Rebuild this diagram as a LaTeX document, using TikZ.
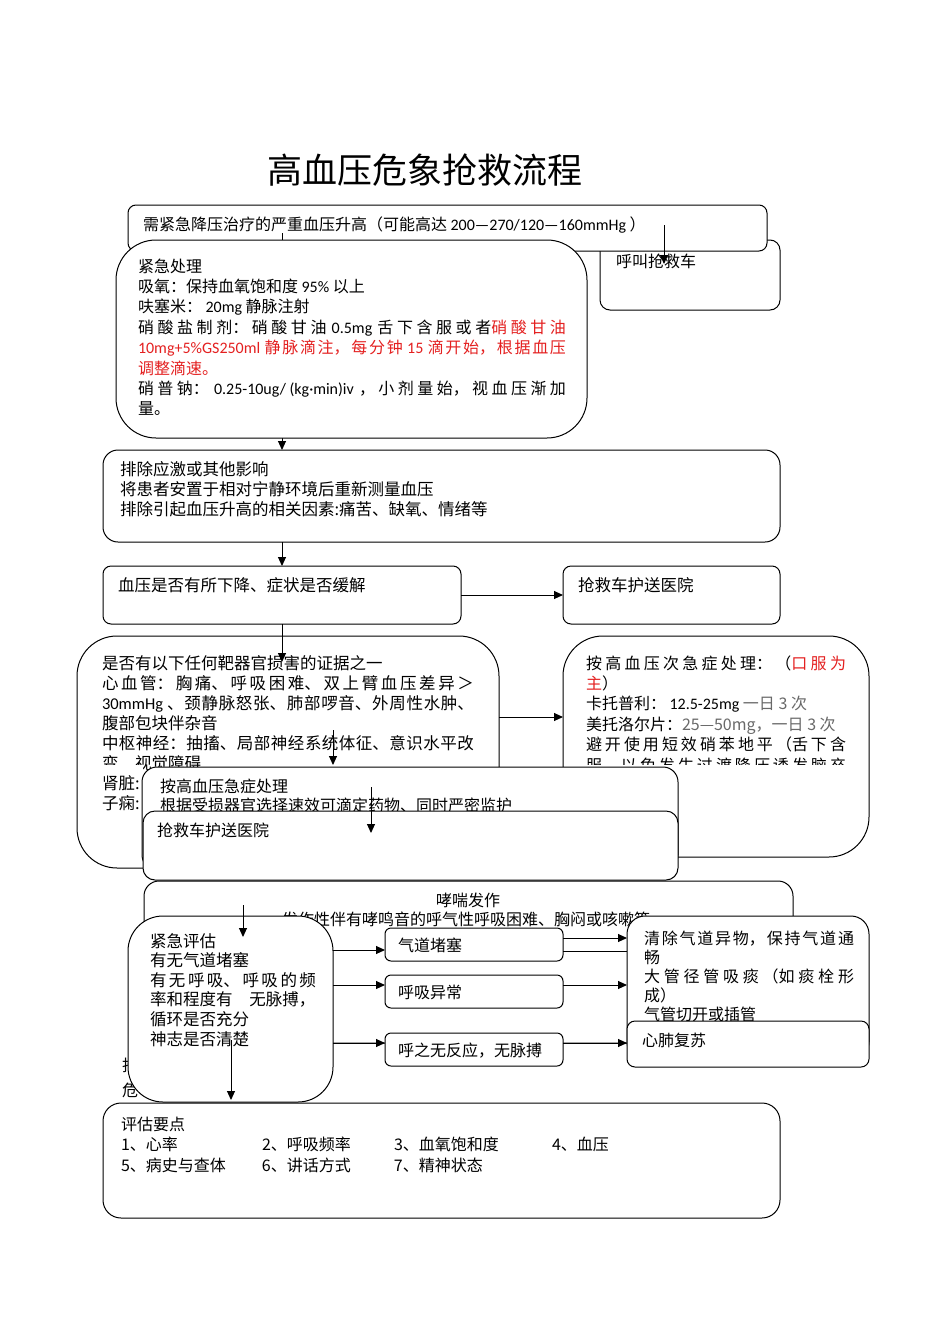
\documentclass[tikz,border=0pt]{standalone}
\usepackage{fontspec}
\setmainfont{Noto Sans CJK SC}
\newfontfamily\lat{Carlito}
\usetikzlibrary{arrows.meta,fit}
\XeTeXlinebreaklocale "zh"
\XeTeXlinebreakskip=0pt plus 4pt
\definecolor{cred}{RGB}{228,32,32}
\definecolor{cgray}{RGB}{105,105,105}
\tikzset{
  box/.style={draw=black, line width=1pt, fill=white, inner sep=0pt, outer sep=0pt},
  arr/.style={line width=1pt, -{Triangle[length=9pt,width=8pt]}},
  ln/.style={line width=1pt},
  tx/.style={anchor=base west, inner sep=0pt, outer sep=0pt, font=\fontsize{16}{20.4}\selectfont},
  txb/.style={anchor=base west, inner sep=0pt, outer sep=0pt, font=\fontsize{16.5}{20}\selectfont},
  ptx/.style={tx, text width=#1, align=justify},
  ptxb/.style={txb, text width=#1, align=justify},
}
\begin{document}
\begin{tikzpicture}[x=1pt,y=-1pt]
\useasboundingbox (0,0) rectangle (950,1344);
\node[anchor=base, inner sep=0pt, font=\fontsize{35}{40}\selectfont] (title) at (425,183) {高血压危象抢救流程};

% call ambulance (behind top box)
\node[box, rounded corners=10pt, fit={(600,240) (780,310)}] (call) {};
\node[tx] (call-t) at (616,267) {呼叫抢救车};
% top box
\node[box, rounded corners=8pt, fit={(128,205) (767,251)}] (top) {};
\node[tx] (top-t) at (143,230) {需紧急降压治疗的严重血压升高（可能高达 {\lat 200—270/120—160mmHg} ）};

% rule-out box
\node[box, rounded corners=15pt, fit={(103,450) (780,542)}] (rule) {};
\node[ptxb=640pt] (rule-t) at (120,475) {排除应激或其他影响\par
将患者安置于相对宁静环境后重新测量血压\par
排除引起血压升高的相关因素:痛苦、缺氧、情绪等};

\coordinate (c1) at (282,233);
\draw[arr] (c1) -- (c1 |- rule.north);

% emergency box
\node[box, rounded corners=40pt, fit={(116,240) (587,438)}] (emerg) {};
\node[ptx=428pt] (emerg-t) at (138,272) {紧急处理\par
吸氧：保持血氧饱和度 {\lat 95\%} 以上\par
呋塞米： {\lat 20mg} 静脉注射\par
硝酸盐制剂：硝酸甘油 {\lat 0.5mg} 舌下含服或者{\color{cred}硝酸甘油\linebreak
{\lat 10mg+5\%GS250ml} 静脉滴注，每分钟 {\lat 15} 滴开始，根据血压\linebreak
调整滴速。}\par
硝普钠： {\lat 0.25-10ug/(kg·min)iv} ，小剂量始，视血压渐加\linebreak
量。};

\coordinate (c2) at (664,225);
\coordinate (c2e) at (664,264);
\draw[arr] (c2) -- (c2e);

% BP box and ambulance
\node[box, rounded corners=8pt, fit={(103,566) (461,624)}] (bp) {};
\node[txb] (bp-t) at (118,591) {血压是否有所下降、症状是否缓解};
\node[box, rounded corners=8pt, fit={(563,566) (780,624)}] (amb1) {};
\node[txb] (amb1-t) at (578,591) {抢救车护送医院};
\draw[arr] (rule.south -| c1) -- (c1 |- bp.north);
\draw[arr] (bp.east) -- (amb1.west);

% organ damage box
\node[box, rounded corners=40pt, fit={(77,636) (499,868)}] (organ) {};
\node[ptxb=372pt] (organ-t) at (102,669) {是否有以下任何靶器官损害的证据之一\par
心血管：胸痛、呼吸困难、双上臂血压差异＞\linebreak
{\lat 30mmHg} 、颈静脉怒张、肺部啰音、外周性水肿、\linebreak
腹部包块伴杂音\par
中枢神经：抽搐、局部神经系统体征、意识水平改\linebreak
变、视觉障碍\par
肾脏:\par
子痫:};
\fill[white] (100,765) rectangle (143,773);

% sub-urgent box
\node[box, rounded corners=40pt, fit={(563,636) (869,857)}] (sub) {};
\begin{scope}
\clip (563,636) rectangle (869,764);
\node[ptx=260pt] (sub-t) at (586,669) {按高血压次急症处理：（{\color{cred}口服为\linebreak
主}）\par
卡托普利： {\lat 12.5-25mg} {\color{cgray}一日 3 次}\par
美托洛尔片：{\color{cgray}25—50mg，一日 3 次}\par
避开使用短效硝苯地平（舌下含\linebreak
服，以免发生过渡降压诱发脑卒\linebreak 中）};
\end{scope}

\coordinate (c5) at (282,662);
\draw[arr] (bp.south -| c1) -- (c5);
\coordinate (c6) at (499,717);
\draw[arr] (c6) -- (c6 -| sub.west);
\coordinate (c7) at (333,730);
\coordinate (c7e) at (333,765);
\draw[arr] (c7) -- (c7e);

% urgent box and ambulance 2
\node[box, rounded corners=15pt, fit={(142,767) (678,870)}] (urg) {};
\node[tx, text width=520pt, align=left, font=\fontsize{16}{19}\selectfont] (urg-t) at (160,792) {按高血压急症处理\par
根据受损器官选择速效可滴定药物、同时严密监护};
\node[box, rounded corners=12pt, fit={(143,811) (678,880)}] (amb2) {};
\node[tx] (amb2-t) at (157,836) {抢救车护送医院};
\coordinate (c8) at (371,787);
\coordinate (c8e) at (371,833);
\draw[arr] (c8) -- (c8e);

% asthma box
\node[box, rounded corners=15pt, fit={(144,881) (793,1043)}] (asth) {};
\node[anchor=base, inner sep=0pt, font=\fontsize{16}{20}\selectfont] (asth-t1) at (468,906) {哮喘发作};
\node[anchor=base, inner sep=0pt, font=\fontsize{16}{20}\selectfont] (asth-t2) at (466,925) {发作性伴有哮鸣音的呼气性呼吸困难、胸闷或咳嗽等};
\node[tx] (frag1) at (122,1071) {抢};
\node[tx] (frag2) at (122,1096) {危};

% emergency evaluation
\node[box, rounded corners=35pt, fit={(128,916) (333,1102)}] (eval) {};
\node[txb, text width=166pt, align=justify, font=\fontsize{16.5}{19.6}\selectfont] (eval-t) at (150,947) {紧急评估\par
有无气道堵塞\par
有无呼吸、呼吸的频\linebreak
\mbox{率和程度有\hspace{17pt}无脉搏，}\par
循环是否充分\par
神志是否清楚};
\coordinate (c9) at (243,905);
\coordinate (c9e) at (243,937);
\draw[arr] (c9) -- (c9e);

% three result boxes
\node[box, rounded corners=6pt, fit={(385,928) (563,961)}] (air) {};
\node[tx] (air-t) at (398,951) {气道堵塞};
\node[box, rounded corners=6pt, fit={(385,975) (563,1008)}] (brea) {};
\node[tx] (brea-t) at (398,998) {呼吸异常};
\node[box, rounded corners=6pt, fit={(385,1033) (563,1066)}] (nores) {};
\node[tx] (nores-t) at (398,1056) {呼之无反应，无脉搏};

\draw[arr] (eval.east |- 0,950) -- (air.west |- 0,950);
\draw[arr] (eval.east |- 0,985) -- (brea.west |- 0,985);
\draw[arr] (eval.east |- 0,1043) -- (nores.west |- 0,1043);

% clear airway box and CPR
\node[box, rounded corners=18pt, fit={(627,916) (869,1060)}] (clear) {};
\node[tx, text width=210pt, align=justify, font=\fontsize{16}{19}\selectfont] (clear-t) at (644,944) {清除气道异物，保持气道通\linebreak
畅\par
大管径管吸痰（如痰栓形\linebreak
成）\par
气管切开或插管};
\node[box, rounded corners=8pt, fit={(627,1021) (869,1067)}] (cpr) {};
\node[tx] (cpr-t) at (642,1046) {心肺复苏};

\draw[arr] (air.east |- 0,938) -- (clear.west |- 0,938);
\draw[ln] (air.east |- 0,951) -- (clear.west |- 0,951);
\draw[arr] (brea.east |- 0,985) -- (clear.west |- 0,985);
\draw[arr] (nores.east |- 0,1043) -- (cpr.west |- 0,1043);

\coordinate (c17) at (231,1040);
\coordinate (c17e) at (231,1100);
\draw[arr] (c17) -- (c17e);

% assessment key points
\node[box, rounded corners=18pt, fit={(103,1103) (780,1218)}] (assess) {};
\node[tx, text width=640pt, align=left, font=\fontsize{16}{20.5}\selectfont] (assess-t) at (121,1130) {评估要点\par
\makebox[141pt][l]{1、心率}\makebox[132pt][l]{2、呼吸频率}\makebox[158pt][l]{3、血氧饱和度}4、血压\par
\makebox[141pt][l]{5、病史与查体}\makebox[132pt][l]{6、讲话方式}7、精神状态};
\end{tikzpicture}
\end{document}
